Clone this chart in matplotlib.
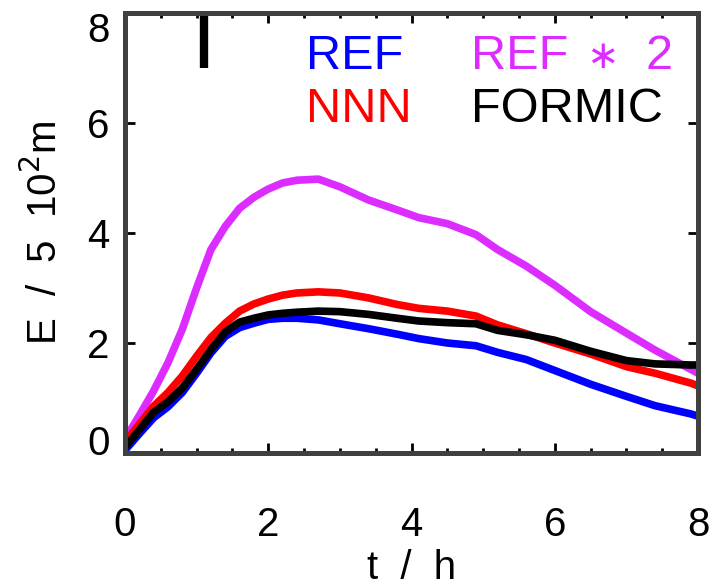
import numpy as np
import matplotlib
matplotlib.use('Agg')
import matplotlib.pyplot as plt
import matplotlib.transforms as mtransforms
from matplotlib.ticker import MultipleLocator

# Zeitachse und Kurven
t = [0, 0.2, 0.4, 0.6, 0.8, 1.0, 1.2, 1.4, 1.6, 1.8, 2.0, 2.2, 2.4, 2.7, 3.0, 3.4,
     3.8, 4.1, 4.5, 4.9, 5.2, 5.6, 6.0, 6.5, 7.0, 7.4, 7.9, 8.0]
ref = [0.05, 0.35, 0.64, 0.84, 1.10, 1.45, 1.82, 2.12, 2.28, 2.36, 2.43, 2.45, 2.45, 2.42,
       2.35, 2.26, 2.16, 2.08, 2.00, 1.95, 1.83, 1.70, 1.50, 1.25, 1.03, 0.86, 0.71, 0.67]
ref2 = [0.25, 0.68, 1.13, 1.64, 2.25, 3.00, 3.70, 4.12, 4.45, 4.65, 4.80, 4.91, 4.96, 4.98,
        4.84, 4.60, 4.42, 4.28, 4.17, 3.97, 3.70, 3.40, 3.05, 2.57, 2.18, 1.87, 1.52, 1.45]
nnn = [0.2, 0.52, 0.85, 1.10, 1.40, 1.76, 2.10, 2.36, 2.58, 2.71, 2.80, 2.87, 2.91, 2.93,
       2.91, 2.82, 2.70, 2.63, 2.58, 2.49, 2.33, 2.17, 2.00, 1.80, 1.57, 1.45, 1.27, 1.22]
formic = [0.1, 0.42, 0.74, 0.93, 1.18, 1.52, 1.88, 2.20, 2.38, 2.45, 2.51, 2.54, 2.56, 2.58,
          2.57, 2.52, 2.45, 2.40, 2.37, 2.35, 2.23, 2.15, 2.05, 1.85, 1.68, 1.62, 1.60, 1.60]

y_ticks = [0, 2, 4, 6, 8]

# Fehlerbalken oben links
err_t = 1.11
err_lo, err_hi = 7.0, 8.0

plt.rcParams['font.family'] = ['Liberation Sans', 'DejaVu Sans']

fig = plt.figure(figsize=(7.13, 5.87), dpi=100)
ax = fig.add_axes([0.1753, 0.2283, 0.8037, 0.7495])

lw = 5.5
kw = dict(lw=lw, solid_capstyle='butt', solid_joinstyle='round')
ax.plot(t, ref, color='#0000ff', **kw)
ax.plot(t, ref2, color='#dc2cff', **kw)
ax.plot(t, nnn, color='#ff0000', **kw)
ax.plot(t, formic, color='black', **kw)
ax.vlines(err_t, err_lo, err_hi, color='black', lw=6)

ax.set_xlim(0, 8)
ax.xaxis.set_major_locator(MultipleLocator(2))
ax.xaxis.set_minor_locator(MultipleLocator(0.5))
# aeusserste y-Labels werden unten separat nach innen versetzt gesetzt
ax.set_yticks(y_ticks, ['' if v in (y_ticks[0], y_ticks[-1]) else str(v) for v in y_ticks])
ax.set_ylim(0, 8)

for s in ax.spines.values():
    s.set_linewidth(3.6)
    s.set_color('#404040')

ax.tick_params(which='both', direction='in', top=True, right=True, color='black')
ax.tick_params(which='major', length=7, width=2)
ax.tick_params(which='minor', length=3.5, width=2)
ax.tick_params(axis='x', which='major', pad=38, labelsize=29)
ax.tick_params(axis='y', which='major', pad=11, labelsize=29)

trans = mtransforms.blended_transform_factory(ax.transAxes, ax.transData)
shift0 = mtransforms.ScaledTranslation(0, -2 / 100, fig.dpi_scale_trans)
shift8 = mtransforms.ScaledTranslation(0, -29 / 100, fig.dpi_scale_trans)
ax.text(-0.026, y_ticks[0], str(y_ticks[0]), transform=trans + shift0, fontsize=29,
        ha='right', va='baseline')
ax.text(-0.026, y_ticks[-1], str(y_ticks[-1]), transform=trans + shift8, fontsize=29,
        ha='right', va='baseline')

ax.set_xlabel('t  /  h', fontsize=29, labelpad=4)
ax.set_ylabel('E  /  5  10$^2$m', fontsize=29, labelpad=16)

fs = 35
ax.text(2.53, 6.98, 'REF', color='#0000ff', fontsize=fs, va='baseline')
ax.text(4.83, 6.98, 'REF', color='#dc2cff', fontsize=fs, va='baseline')
ax.text(6.66, 7.2, '\u2217', color='#dc2cff', fontsize=28, family=['DejaVu Sans'],
        ha='center', va='center')
ax.text(7.27, 6.98, '2', color='#dc2cff', fontsize=fs, va='baseline')
ax.text(2.53, 6.02, 'NNN', color='#ff0000', fontsize=fs, va='baseline')
ax.text(4.83, 6.02, 'FORMIC', color='black', fontsize=fs, va='baseline')

fig.savefig('out.png', dpi=100)
